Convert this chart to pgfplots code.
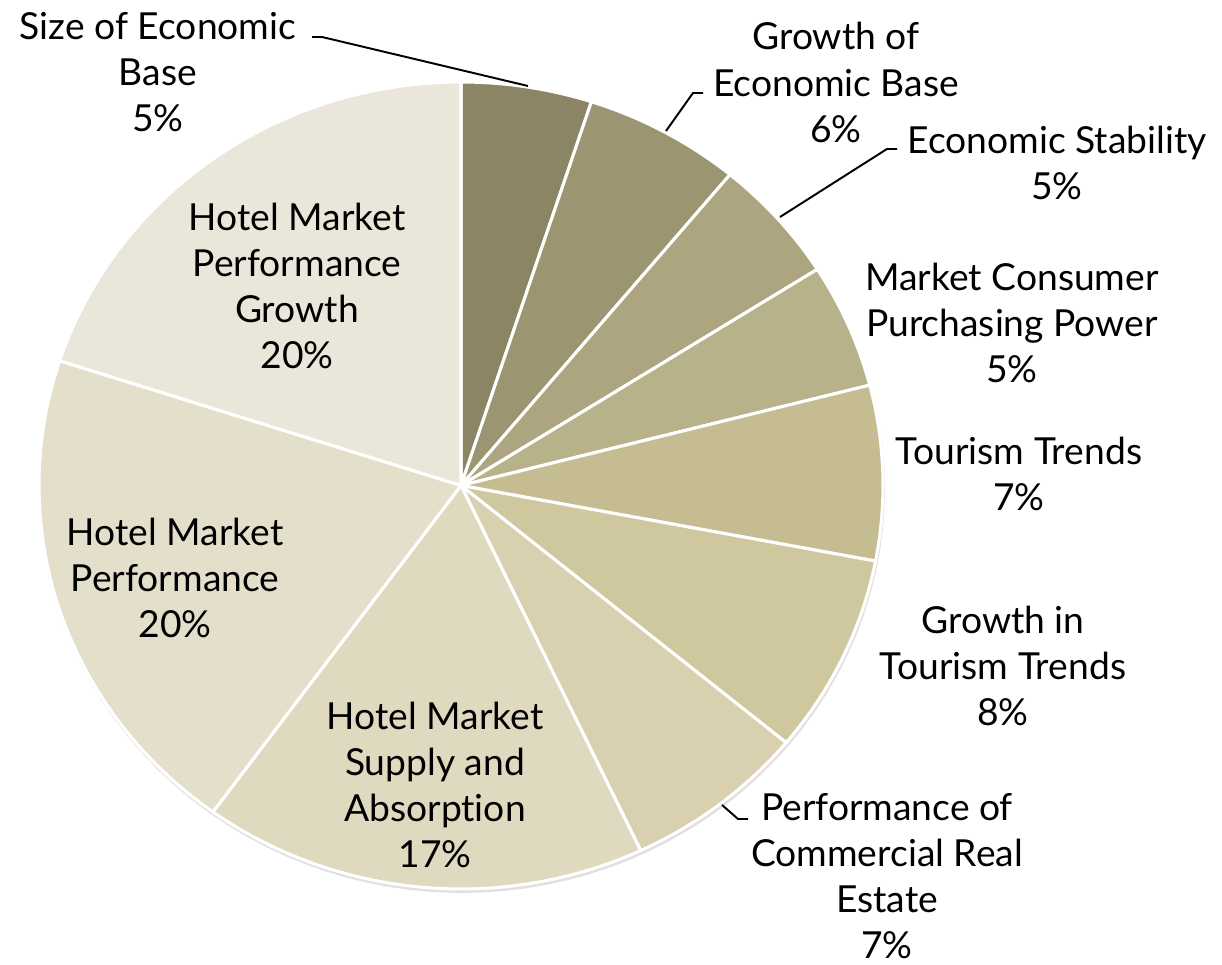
\documentclass[border=0pt]{standalone}
\usepackage{fontspec}
\setmainfont{Lato}[Ligatures=NoCommon]
\usepackage{pgfplots}
\pgfplotsset{compat=1.18}
\definecolor{c1}{HTML}{8B8566}
\definecolor{c2}{HTML}{9B9572}
\definecolor{c3}{HTML}{ACA57F}
\definecolor{c4}{HTML}{B8B28B}
\definecolor{c5}{HTML}{C5BD91}
\definecolor{c6}{HTML}{CFC79E}
\definecolor{c7}{HTML}{D8D0AE}
\definecolor{c8}{HTML}{DFD9C0}
\definecolor{c9}{HTML}{E4DFCB}
\definecolor{c10}{HTML}{EAE6D9}
\newcommand{\lbl}{\fontsize{13.4}{16.6}\selectfont}
% slice: cumulative start (%), value (%), colour
\newcommand{\slice}[3]{%
  \addplot[fill=#3, draw=white, line width=1.1pt, line join=round,
    domain={90-3.6*(#1+#2)}:{90-3.6*(#1)}, samples=60]
    ({461+422*cos(x)},{479.5+403.5*sin(x)}) -- (axis cs:461,479.5) -- cycle;}
\begin{document}
\begin{tikzpicture}
\begin{axis}[
  scale only axis, width=440pt, height=347.46pt,
  xmin=0, xmax=1222, ymin=0, ymax=965,
  hide axis, clip=false]
% faint shadow
\addplot[fill=black!12, draw=none, domain=0:360, samples=120]
  ({462+423*cos(x)},{476+404*sin(x)}) -- cycle;
% values: 5, 6, 5, 5, 7, 8, 7, 17, 20, 20
\slice{0}{5}{c1}
\slice{5}{6}{c2}
\slice{11}{5}{c3}
\slice{16}{5}{c4}
\slice{21}{7}{c5}
\slice{28}{8}{c6}
\slice{36}{7}{c7}
\slice{43}{17}{c8}
\slice{60}{20}{c9}
\slice{80}{20}{c10}
% leader lines
\addplot[black, line width=0.7pt] coordinates {(312,928) (322,928) (528,879)};
\addplot[black, line width=0.7pt] coordinates {(703,872) (693,872) (666,834)};
\addplot[black, line width=0.7pt] coordinates {(897,816) (887,816) (780,748)};
\addplot[black, line width=0.7pt] coordinates {(748,146) (738,146) (722,160)};
% labels
\begin{scope}[every node/.style={align=center, font=\lbl, inner sep=0pt, text=black}]
\node at (axis cs:158,893) {Size of Economic\\Base\\5\%};
\node at (axis cs:836,882.5) {Growth of\\Economic Base\\6\%};
\node at (axis cs:1057,802) {Economic Stability\\5\%};
\node at (axis cs:1012,642) {Market Consumer\\Purchasing Power\\5\%};
\node at (axis cs:1019,491) {Tourism Trends\\7\%};
\node at (axis cs:1003,299) {Growth in\\Tourism Trends\\8\%};
\node at (axis cs:887,89) {Performance of\\Commercial Real\\Estate\\7\%};
\node at (axis cs:435,180) {Hotel Market\\Supply and\\Absorption\\17\%};
\node at (axis cs:175,387) {Hotel Market\\Performance\\20\%};
\node at (axis cs:297,679) {Hotel Market\\Performance\\Growth\\20\%};
\end{scope}
\end{axis}
\pgfresetboundingbox
\path (0,0) rectangle (440pt,347.46pt);
\end{tikzpicture}
\end{document}
